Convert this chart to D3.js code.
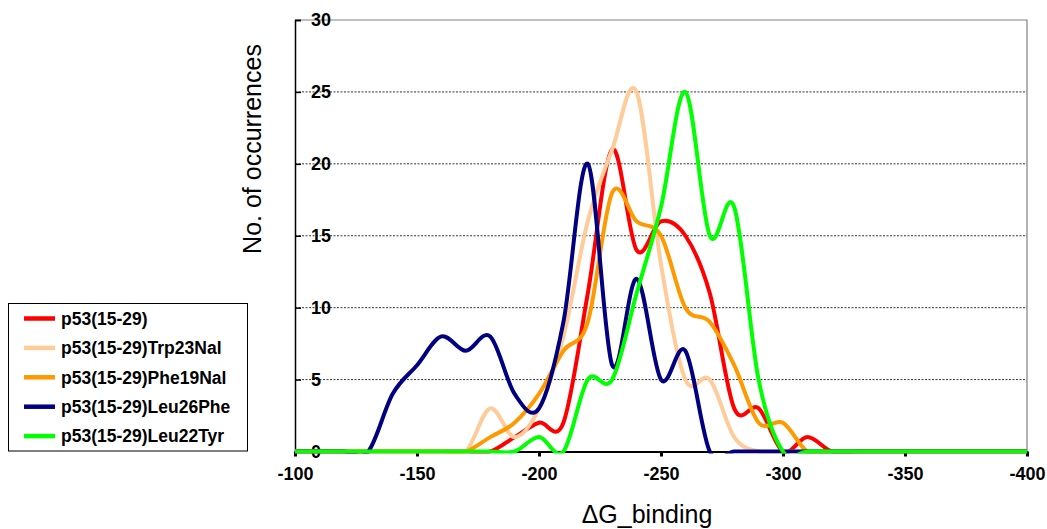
<!DOCTYPE html>
<html>
<head>
<meta charset="utf-8">
<script src="https://cdn.jsdelivr.net/npm/d3@7/dist/d3.min.js"></script>
<style>
body { margin: 0; background: #fff; }
text { font-family: Arial, "Liberation Sans", sans-serif; }
</style>
</head>
<body>
<script>
//binding energy bins (x categories)
var binding = [-100, -110, -120, -130, -140, -150, -160, -170, -180, -190, -200,
    -210, -220, -230, -240, -250, -260, -270, -280, -290, -300,
    -310, -320, -330, -340, -350, -360, -370, -380, -390, -400];

//occurrences per bin, one array per peptide
var p53wt = [0, 0, 0, 0, 0, 0, 0, 0, 0, 1, 2, 2, 11, 21, 14, 16, 15, 11, 3, 3, 0, 1, 0, 0, 0, 0, 0, 0, 0, 0, 0];
var trp23Nal = [0, 0, 0, 0, 0, 0, 0, 0, 3, 1, 3, 8, 16, 21, 25, 13, 5, 5, 1, 0, 0, 0, 0, 0, 0, 0, 0, 0, 0, 0, 0];
var phe19Nal = [0, 0, 0, 0, 0, 0, 0, 0, 1, 2, 4, 7, 9, 18, 16, 15, 10, 9, 6, 2, 2, 0, 0, 0, 0, 0, 0, 0, 0, 0, 0];
var leu26Phe = [0, 0, 0, 0, 4, 6, 8, 7, 8, 4, 3, 9, 20, 6, 12, 5, 7, 0, 0, 0, 0, 0, 0, 0, 0, 0, 0, 0, 0, 0, 0];
var leu22Tyr = [0, 0, 0, 0, 0, 0, 0, 0, 0, 0, 1, 0, 5, 5, 11, 17, 25, 15, 17, 5, 0, 0, 0, 0, 0, 0, 0, 0, 0, 0, 0];

var seriesNames = ["p53(15-29)", "p53(15-29)Trp23Nal", "p53(15-29)Phe19Nal",
    "p53(15-29)Leu26Phe", "p53(15-29)Leu22Tyr"];
var seriesColors = ["#ff0000", "#ffcc99", "#ff9900", "#000080", "#00ff00"];

//tick labels
var xTicks = [-100, -150, -200, -250, -300, -350, -400];
var yTicks = [0, 5, 10, 15, 20, 25, 30];

window.onload = function(){

    var w = 1047, h = 529;
    var left = 295, right = 1027, top = 20, bottom = 451.5;

    var svg = d3.select("body")
        .append("svg")
        .attr("width", w)
        .attr("height", h)
        .attr("class", "container");

    var x = d3.scaleLinear()
        .domain([-100, -400])
        .range([left, right]);

    var y = d3.scaleLinear()
        .domain([0, 30])
        .range([bottom, top]);

    //keep the smoothing from dipping under the zero line
    svg.append("clipPath")
        .attr("id", "plotClip")
        .append("rect")
        .attr("x", left - 5)
        .attr("y", 0)
        .attr("width", right - left + 10)
        .attr("height", bottom + 2);

    //dotted gridlines (the top one is the plot border)
    svg.selectAll(".grid")
        .data(yTicks.filter(function(d){ return d > 0 && d < 30; }))
        .enter()
        .append("line")
        .attr("class", "grid")
        .attr("x1", left)
        .attr("x2", right)
        .attr("y1", function(d){ return y(d); })
        .attr("y2", function(d){ return y(d); })
        .style("stroke", "#000")
        .style("stroke-width", 0.8)
        .style("stroke-dasharray", "2,1.5");

    //grey border top + right
    svg.append("path")
        .attr("d", "M" + left + "," + y(30) + "H" + right + "V" + bottom)
        .style("fill", "none")
        .style("stroke", "#808080")
        .style("stroke-width", 1.2);

    //y axis: ticks point inside, labels sit inside the plot
    var yAxis = d3.axisRight(y)
        .tickValues(yTicks)
        .tickSize(6)
        .tickPadding(10)
        .tickFormat(function(d){ return String(d); });
    var yg = svg.append("g")
        .attr("class", "axis")
        .attr("transform", "translate(" + left + ",0)")
        .call(yAxis);
    yg.select(".domain").style("stroke", "#000").style("stroke-width", 1.5);
    yg.selectAll(".tick line").style("stroke", "#000").style("stroke-width", 1.5);
    yg.selectAll("text")
        .style("font-size", "18px")
        .style("font-weight", "bold")
        .style("fill", "#000");

    //x axis
    var xAxis = d3.axisBottom(x)
        .tickValues(xTicks)
        .tickSize(5)
        .tickSizeOuter(0)
        .tickPadding(11)
        .tickFormat(function(d){ return String(d); });
    var xg = svg.append("g")
        .attr("class", "axis")
        .attr("transform", "translate(0," + bottom + ")")
        .call(xAxis);
    xg.select(".domain").style("stroke", "#000").style("stroke-width", 2);
    xg.selectAll(".tick line").style("stroke", "#000").style("stroke-width", 3);
    xg.selectAll("text")
        .style("font-size", "18px")
        .style("font-weight", "bold")
        .style("fill", "#000");

    //smoothed lines, like Excel's smooth option
    var seriesData = [p53wt, trp23Nal, phe19Nal, leu26Phe, leu22Tyr];
    var line = d3.line()
        .x(function(d, i){ return x(binding[i]); })
        .y(function(d){ return y(d); })
        .curve(d3.curveCatmullRom.alpha(0));

    svg.append("g")
        .attr("clip-path", "url(#plotClip)")
        .selectAll(".series")
        .data(seriesData)
        .enter()
        .append("path")
        .attr("class", "series")
        .attr("d", line)
        .style("fill", "none")
        .style("stroke", function(d, i){ return seriesColors[i]; })
        .style("stroke-width", 4)
        .style("stroke-linejoin", "round");

    //axis titles
    svg.append("text")
        .attr("transform", "translate(261,149) rotate(-90)")
        .attr("text-anchor", "middle")
        .style("font-size", "25px")
        .text("No. of occurrences");

    svg.append("text")
        .attr("x", 647)
        .attr("y", 523)
        .attr("text-anchor", "middle")
        .style("font-size", "25px")
        .text("\u0394G_binding");

    //legend box
    var legend = svg.append("g").attr("class", "legend");
    legend.append("rect")
        .attr("x", 8.5)
        .attr("y", 303.5)
        .attr("width", 239)
        .attr("height", 147.5)
        .style("fill", "#fff")
        .style("stroke", "#000")
        .style("stroke-width", 1);

    var items = legend.selectAll(".item")
        .data(seriesNames)
        .enter()
        .append("g")
        .attr("class", "item")
        .attr("transform", function(d, i){ return "translate(0," + (318.5 + i * 29.4) + ")"; });

    items.append("line")
        .attr("x1", 24)
        .attr("x2", 55)
        .style("stroke", function(d, i){ return seriesColors[i]; })
        .style("stroke-width", 4.5);

    items.append("text")
        .attr("x", 61)
        .attr("dy", "0.36em")
        .style("font-size", "17.5px")
        .style("font-weight", "bold")
        .text(function(d){ return d; });
};
</script>
</body>
</html>
